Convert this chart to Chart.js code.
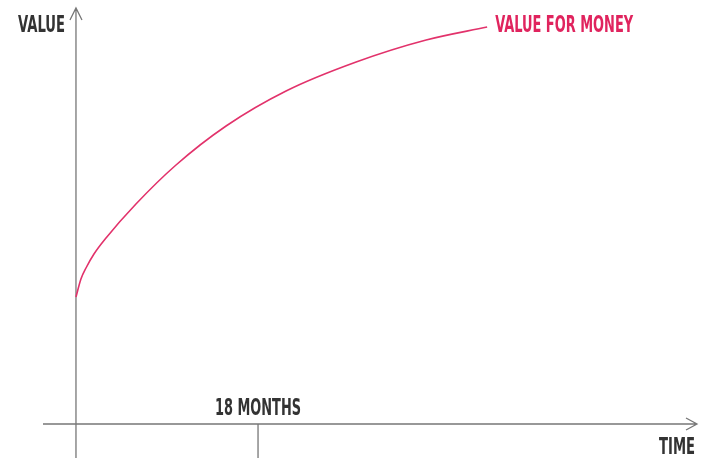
<!DOCTYPE html>
<html lang="en">
<head>
  <meta charset="UTF-8">
  <title>Value for Money</title>
  <script src="https://cdn.jsdelivr.net/npm/chart.js"></script>
  <style>
    body { margin: 0; background: #fff; }
  </style>
</head>
<body>
  <canvas id="myChart" width="705" height="458"></canvas>
  <script>
    // months since purchase / value
    const months = [0, 0.49, 0.99, 1.78, 2.97, 5.93, 9.89, 14.84, 20.77, 27.7, 34.62, 40.65];
    const valueForMoney = [31.75, 36.25, 39, 42.5, 46.5, 55, 64.75, 74.5, 83.25, 90.5, 96, 99.25];
    const xTicks = [18];
    const xTickLabels = ['18 MONTHS'];
    const seriesLabel = 'VALUE FOR MONEY';
    const yAxisTitle = 'VALUE';
    const xAxisTitle = 'TIME';

    const FONT = 'bold 23px "Liberation Sans Narrow", "DejaVu Sans Condensed", sans-serif';

    function drawLabel(ctx, text, x, y, width, color) {
      ctx.save();
      ctx.font = FONT;
      ctx.fillStyle = color;
      ctx.textBaseline = 'alphabetic';
      ctx.textAlign = 'left';
      const w = ctx.measureText(text).width;
      ctx.translate(x, y);
      ctx.scale(width / w, 1);
      ctx.fillText(text, 0, 0);
      ctx.restore();
    }

    const axesPlugin = {
      id: 'sketchAxes',
      beforeDatasetsDraw(chart) {
        const ctx = chart.ctx;
        const xs = chart.scales.x, ys = chart.scales.y;
        const area = chart.chartArea;
        const x0 = xs.getPixelForValue(0);
        const y0 = ys.getPixelForValue(0);
        ctx.save();
        ctx.strokeStyle = '#777';
        ctx.lineWidth = 1.3;
        ctx.beginPath();
        // y axis with arrow
        ctx.moveTo(x0, area.bottom);
        ctx.lineTo(x0, area.top);
        ctx.moveTo(x0 - 6, area.top + 12);
        ctx.lineTo(x0, area.top);
        ctx.lineTo(x0 + 6, area.top + 12);
        // x axis with arrow
        ctx.moveTo(area.left, y0);
        ctx.lineTo(area.right, y0);
        ctx.moveTo(area.right - 11, y0 - 6);
        ctx.lineTo(area.right, y0);
        ctx.lineTo(area.right - 11, y0 + 6);
        // ticks
        xTicks.forEach(t => {
          const px = xs.getPixelForValue(t);
          ctx.moveTo(px, y0);
          ctx.lineTo(px, area.bottom);
        });
        ctx.stroke();
        ctx.restore();
      },
      afterDraw(chart) {
        const ctx = chart.ctx;
        const xs = chart.scales.x, ys = chart.scales.y;
        const y0 = ys.getPixelForValue(0);
        xTicks.forEach((t, i) => {
          const px = xs.getPixelForValue(t);
          drawLabel(ctx, xTickLabels[i], px - 43, y0 - 9, 86, '#333');
        });
        drawLabel(ctx, yAxisTitle, 18, 32, 47, '#333');
        drawLabel(ctx, xAxisTitle, 659, 454, 36, '#333');
        const last = valueForMoney.length - 1;
        const lx = xs.getPixelForValue(months[last]);
        drawLabel(ctx, seriesLabel, lx + 8, 32, 138, '#e0245e');
      }
    };

    const ctx = document.getElementById('myChart').getContext('2d');
    const myChart = new Chart(ctx, {
      type: 'line',
      data: {
        datasets: [{
          label: seriesLabel,
          data: months.map((m, i) => ({ x: m, y: valueForMoney[i] })),
          borderColor: '#e2326b',
          borderWidth: 1.6,
          pointRadius: 0,
          fill: false,
          cubicInterpolationMode: 'monotone',
          clip: false
        }]
      },
      options: {
        responsive: false,
        animation: false,
        layout: { padding: { left: 43, right: 8, top: 8, bottom: 0 } },
        plugins: { legend: { display: false }, tooltip: { enabled: false } },
        scales: {
          x: { type: 'linear', min: -3.26, max: 61.4, display: false },
          y: { min: -8.5, max: 104, display: false }
        }
      },
      plugins: [axesPlugin]
    });
  </script>
</body>
</html>
